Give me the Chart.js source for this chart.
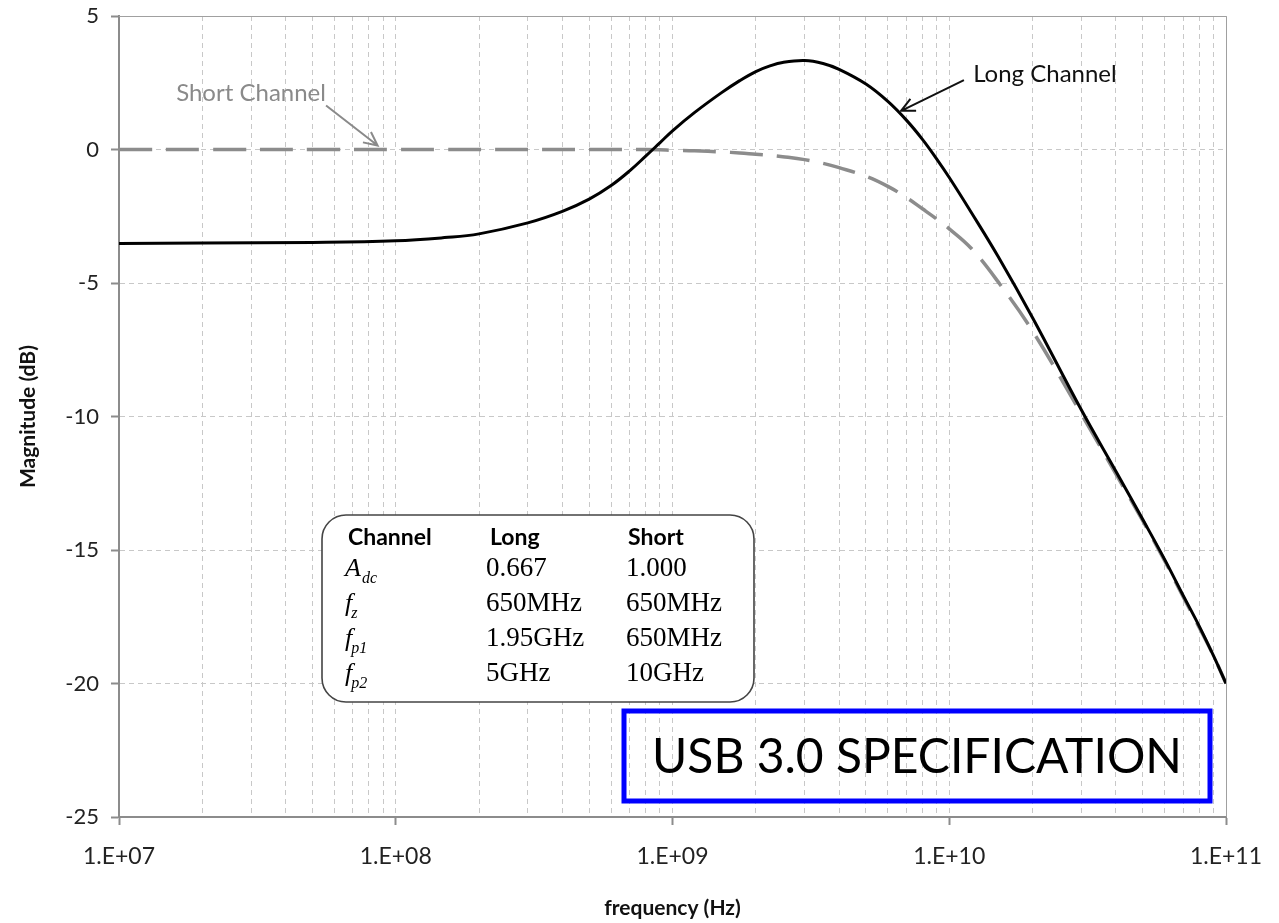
<!DOCTYPE html>
<html>
<head>
<meta charset="utf-8">
<script src="https://cdn.jsdelivr.net/npm/chart.js@4.4.0/dist/chart.umd.min.js"></script>
<style>
  html, body { margin: 0; padding: 0; background: #fff; }
  #wrap { width: 1279px; height: 923px; }
</style>
</head>
<body>
<div id="wrap"><canvas id="bode"></canvas></div>
<script>
// frequency (Hz) and magnitude (dB)
const frequencies = [1e7, 2e7, 5e7, 1e8, 1.5e8, 2e8, 3e8, 4e8, 5e8, 6e8, 7e8, 8e8, 9e8,
  1e9, 1.2e9, 1.5e9, 1.75e9, 2e9, 2.25e9, 2.5e9, 3e9, 3.5e9, 4e9, 5e9, 6e9, 7e9, 8e9, 9e9,
  1e10, 1.2e10, 1.5e10, 2e10, 3e10, 4e10, 5e10, 6e10, 7e10, 8e10, 9e10, 1e11];
const longChannel = [-3.52, -3.5, -3.48, -3.42, -3.3, -3.16, -2.75, -2.32, -1.86, -1.35, -0.8, -0.25, 0.25,
  0.7, 1.38, 2.12, 2.58, 2.92, 3.13, 3.26, 3.33, 3.22, 3.0, 2.45, 1.8, 1.1, 0.38, -0.35,
  -1.05, -2.35, -4.0, -6.3, -9.75, -12.05, -13.85, -15.35, -16.7, -17.85, -18.95, -20];
const shortChannel = [0, 0, 0, 0, 0, 0, 0, 0, 0, 0, 0, 0, -0.01,
  -0.03, -0.05, -0.09, -0.13, -0.18, -0.22, -0.27, -0.38, -0.52, -0.68, -1.0, -1.38, -1.8, -2.22, -2.6,
  -2.97, -3.7, -4.95, -6.8, -9.9, -12.15, -13.9, -15.4, -16.75, -17.9, -18.95, -20];

const decades = [7, 8, 9, 10, 11];
const yTicks = [5, 0, -5, -10, -15, -20, -25];

const tableHeader = ['Channel', 'Long', 'Short'];
const tableSymbols = [['A', 'dc'], ['f', 'z'], ['f', 'p1'], ['f', 'p2']];
const tableLong = ['0.667', '650MHz', '1.95GHz', '5GHz'];
const tableShort = ['1.000', '650MHz', '650MHz', '10GHz'];

const sans = 'Lato, "Open Sans", sans-serif';
const serif = '"Liberation Serif", "DejaVu Serif", serif';

function isDecade(v) {
  const l = Math.log10(v);
  return Math.abs(l - Math.round(l)) < 1e-9;
}

function arrow(ctx, x1, y1, x2, y2, color) {
  const ang = Math.atan2(y2 - y1, x2 - x1);
  const len = 15;
  ctx.save();
  ctx.strokeStyle = color;
  ctx.lineWidth = 2;
  ctx.beginPath();
  ctx.moveTo(x1, y1);
  ctx.lineTo(x2, y2);
  ctx.moveTo(x2 - len * Math.cos(ang - 0.45), y2 - len * Math.sin(ang - 0.45));
  ctx.lineTo(x2, y2);
  ctx.lineTo(x2 - len * Math.cos(ang + 0.45), y2 - len * Math.sin(ang + 0.45));
  ctx.stroke();
  ctx.restore();
}

function roundRect(ctx, x, y, w, h, r) {
  ctx.beginPath();
  ctx.moveTo(x + r, y);
  ctx.arcTo(x + w, y, x + w, y + h, r);
  ctx.arcTo(x + w, y + h, x, y + h, r);
  ctx.arcTo(x, y + h, x, y, r);
  ctx.arcTo(x, y, x + w, y, r);
  ctx.closePath();
}

const overlay = {
  id: 'overlay',
  beforeDatasetsDraw(chart) {
    const { ctx, chartArea: a } = chart;
    ctx.save();
    ctx.strokeStyle = '#a0a0a0';
    ctx.lineWidth = 1;
    ctx.beginPath();
    ctx.moveTo(a.left, a.top + 0.5);
    ctx.lineTo(a.right + 0.5, a.top + 0.5);
    ctx.lineTo(a.right + 0.5, a.bottom);
    ctx.stroke();
    ctx.restore();
  },
  afterDraw(chart) {
    const ctx = chart.ctx;
    const xs = chart.scales.x, ys = chart.scales.y;
    const px = v => xs.getPixelForValue(v), py = v => ys.getPixelForValue(v);

    // curve labels
    ctx.save();
    ctx.font = '24px ' + sans;
    ctx.textBaseline = 'middle';
    ctx.fillStyle = '#8a8a8a';
    ctx.textAlign = 'center';
    ctx.fillText('Short Channel', px(3e7), py(2.1));
    arrow(ctx, px(5.6e7), py(1.65), px(8.6e7), py(0.15), '#8a8a8a');
    ctx.fillStyle = '#111';
    ctx.textAlign = 'left';
    ctx.fillText('Long Channel', px(1.22e10), py(2.8));
    arrow(ctx, px(1.13e10), py(2.6), px(6.7e9), py(1.45), '#111');
    ctx.restore();

    // parameter table
    ctx.save();
    ctx.fillStyle = '#fff';
    ctx.strokeStyle = '#444';
    ctx.lineWidth = 1.6;
    roundRect(ctx, 322, 515, 432, 187, 24);
    ctx.fill();
    ctx.stroke();
    ctx.fillStyle = '#000';
    ctx.textBaseline = 'alphabetic';
    ctx.font = 'bold 23px ' + sans;
    const cols = [348, 490, 628];
    tableHeader.forEach((t, i) => ctx.fillText(t, cols[i], 545));
    tableSymbols.forEach((s, i) => {
      const base = 576 + i * 35;
      ctx.font = 'italic 26px ' + serif;
      ctx.fillText(s[0], 345, base);
      const w = ctx.measureText(s[0]).width;
      ctx.font = 'italic 16px ' + serif;
      ctx.fillText(s[1], 345 + w + (s[0] === 'f' ? -1 : 1), base + 7);
      ctx.font = '27px ' + serif;
      ctx.fillText(tableLong[i], 486, base);
      ctx.fillText(tableShort[i], 626, base);
    });
    ctx.restore();

    // spec label box
    ctx.save();
    ctx.strokeStyle = '#0000ff';
    ctx.lineWidth = 5;
    ctx.strokeRect(624, 711, 586, 90);
    ctx.fillStyle = '#000';
    let size = 54;
    ctx.font = size + 'px ' + sans;
    const tw = ctx.measureText('USB 3.0 SPECIFICATION').width;
    if (tw > 537) size = Math.floor(size * 537 / tw);
    ctx.font = size + 'px ' + sans;
    ctx.textAlign = 'center';
    ctx.textBaseline = 'middle';
    ctx.fillText('USB 3.0 SPECIFICATION', 917, 758);
    ctx.restore();
  }
};

const data = {
  datasets: [
    {
      label: 'Long Channel',
      data: frequencies.map((f, i) => ({ x: f, y: longChannel[i] })),
      borderColor: '#000',
      borderWidth: 3,
      pointRadius: 0,
      tension: 0.4
    },
    {
      label: 'Short Channel',
      data: frequencies.map((f, i) => ({ x: f, y: shortChannel[i] })),
      borderColor: '#8c8c8c',
      borderWidth: 3.5,
      borderDash: [33, 14],
      pointRadius: 0,
      tension: 0.4
    }
  ]
};

const config = {
  type: 'line',
  data: data,
  plugins: [overlay],
  options: {
    responsive: true,
    maintainAspectRatio: false,
    animation: false,
    layout: { padding: { top: 16, right: 53, left: 0, bottom: 0 } },
    plugins: {
      legend: { display: false },
      tooltip: { enabled: false }
    },
    scales: {
      x: {
        type: 'logarithmic',
        min: 1e7,
        max: 1e11,
        afterBuildTicks(scale) {
          const ticks = [];
          decades.forEach(d => {
            for (let m = 1; m <= 9; m++) {
              const v = m * Math.pow(10, d);
              if (v <= 1e11 * 1.0001) ticks.push({ value: v, major: m === 1 });
            }
          });
          scale.ticks = ticks;
        },
        afterFit(scale) {
          scale.height = 106;
          scale.paddingLeft = 0;
          scale.paddingRight = 0;
        },
        grid: {
          color: '#c8c8c8',
          lineWidth: 1,
          tickLength: 8,
          tickColor: c => (c.tick && isDecade(c.tick.value)) ? '#8c8c8c' : 'rgba(0,0,0,0)',
          tickWidth: 2
        },
        border: { color: '#8c8c8c', width: 2, dash: [5, 4] },
        ticks: {
          autoSkip: false,
          maxRotation: 0,
          padding: 18,
          color: '#222',
          font: { family: sans, size: 23 },
          callback: v => isDecade(v) ? '1.E+' + String(Math.round(Math.log10(v))).padStart(2, '0') : ''
        },
        title: {
          display: true,
          text: 'frequency (Hz)',
          color: '#111',
          font: { family: sans, size: 21, weight: 'bold' },
          padding: { top: 0, bottom: 2 }
        }
      },
      y: {
        min: -25,
        max: 5,
        afterBuildTicks(scale) { scale.ticks = yTicks.map(v => ({ value: v })); },
        afterFit(scale) {
          scale.width = 119;
          scale.paddingTop = 0;
          scale.paddingBottom = 0;
        },
        grid: {
          color: '#c8c8c8',
          lineWidth: 1,
          tickLength: 8,
          tickColor: '#8c8c8c',
          tickWidth: 2
        },
        border: { color: '#8c8c8c', width: 2, dash: [5, 4] },
        ticks: {
          padding: 12,
          color: '#222',
          font: { family: sans, size: 22 }
        },
        title: {
          display: true,
          text: 'Magnitude (dB)',
          color: '#111',
          font: { family: sans, size: 21, weight: 'bold' },
          padding: { top: 16, bottom: 0 }
        }
      }
    }
  }
};

new Chart(document.getElementById('bode'), config);
</script>
</body>
</html>
